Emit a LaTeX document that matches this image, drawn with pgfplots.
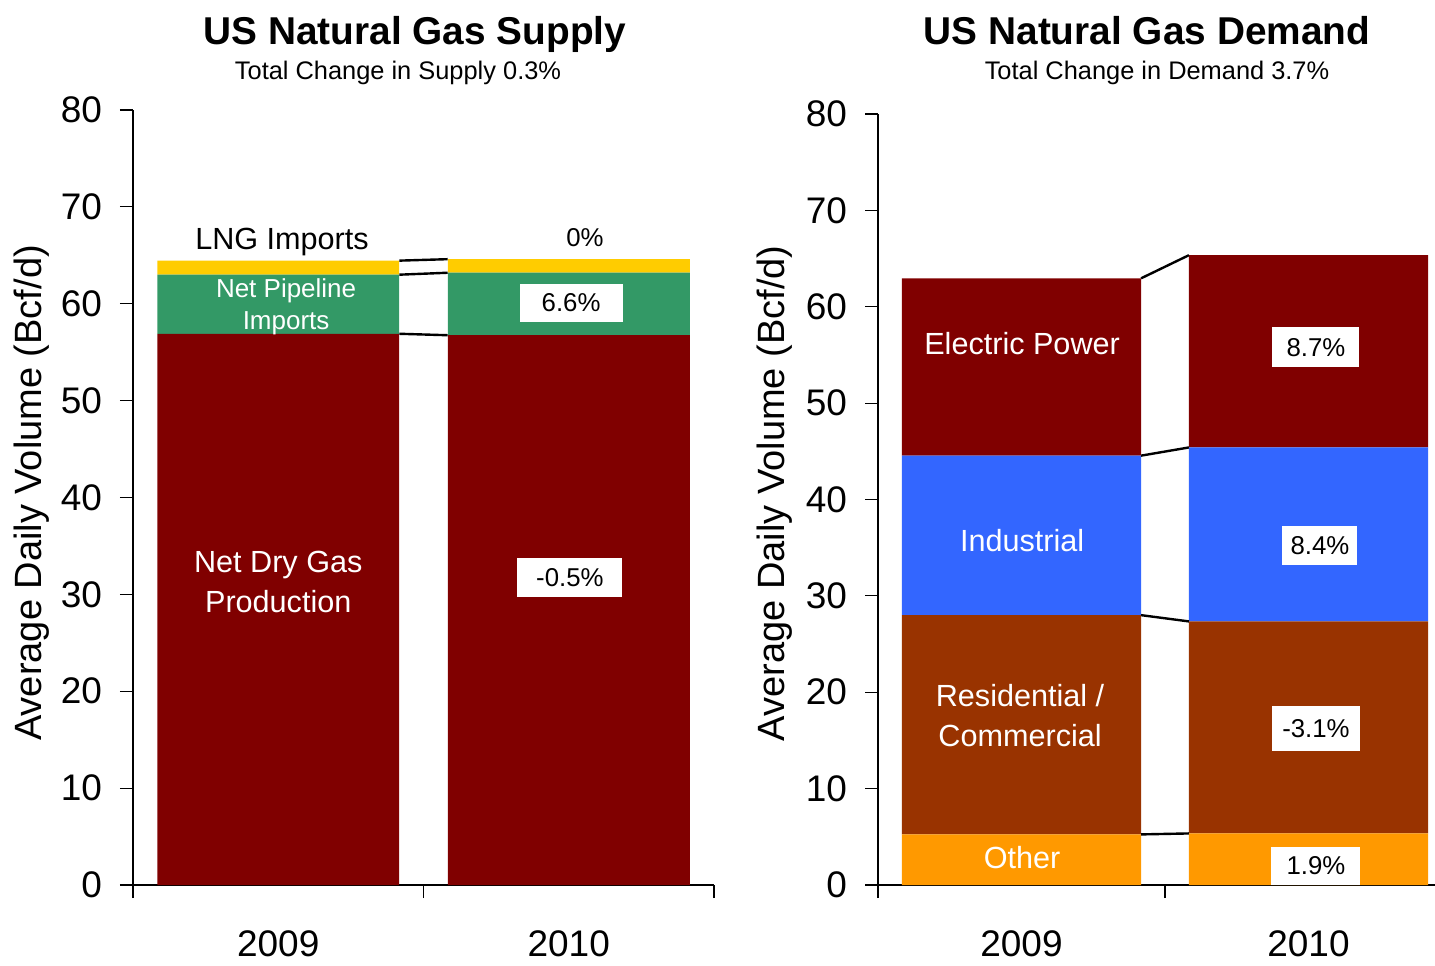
\documentclass[border=0pt]{standalone}
\usepackage{fontspec}
\setmainfont{Liberation Sans}
\usepackage{pgfplots}
\pgfplotsset{compat=1.18}
\definecolor{dred}{HTML}{800000}
\definecolor{pgreen}{HTML}{339966}
\definecolor{lyellow}{HTML}{FFCC00}
\definecolor{iblue}{HTML}{3366FF}
\definecolor{rbrown}{HTML}{993300}
\definecolor{oorange}{HTML}{FF9900}
\newcommand{\tl}{\fontsize{18.5}{20}\selectfont}
\newcommand{\wl}{\fontsize{15.3}{20}\selectfont}
\newcommand{\pl}{\fontsize{12.9}{15}\selectfont}
\begin{document}
\begin{tikzpicture}
\useasboundingbox (0,0) rectangle (717.5pt,482.5pt);
\pgfplotsset{
  base/.style={
    scale only axis, anchor=south west,
    xmin=-0.5, ymin=0, ymax=80,
  },
  main/.style={
    base,
    axis x line*=bottom, axis y line*=left,
    axis line style={black, line width=0.6pt},
    ybar stacked, bar width=0.833,
    ytick={0,10,...,80},
    tick align=outside, major tick length=6.5pt,
    tick style={black, line width=0.6pt},
    /pgf/number format/assume math mode=true,
    tick label style={font=\tl},
    yticklabel style={xshift=-5.5pt},
    extra x ticks={0,1}, extra x tick labels={2009,2010},
    extra x tick style={major tick length=0pt, xticklabel style={yshift=-19.5pt}},
    xticklabels={},
    every axis y label/.style={rotate=90, anchor=center, font=\fontsize{19}{20}\selectfont},
  },
  over/.style={base, hide axis},
}
% ---------------- Supply ----------------
\begin{axis}[main, at={(66.5pt,40pt)}, width=290.5pt, height=387.5pt,
  xmax=1.5, xtick={-0.5,0.5,1.5},
  ylabel={Average Daily Volume (Bcf/d)},
  ylabel style={at={(axis description cs:-0.174,0.506)}}]
\addplot[fill=dred, draw=none] coordinates {(0,56.9) (1,56.75)};
\addplot[fill=pgreen, draw=none] coordinates {(0,6.1) (1,6.45)};
\addplot[fill=lyellow, draw=none] coordinates {(0,1.45) (1,1.4)};
\end{axis}
\begin{axis}[over, at={(66.5pt,40pt)}, width=290.5pt, height=387.5pt, xmax=1.5]
\addplot[black, line width=1.2pt] coordinates {(0.4167,56.9) (0.5833,56.75)};
\addplot[black, line width=1.2pt] coordinates {(0.4167,63.0) (0.5833,63.2)};
\addplot[black, line width=1.2pt] coordinates {(0.4167,64.45) (0.5833,64.6)};
\node[font=\wl] at (axis cs:0.013,66.4) {LNG Imports};
\node[font=\fontsize{13}{16}\selectfont, text=white, align=center] at (axis cs:0.027,59.7) {Net Pipeline\\Imports};
\node[font=\wl, text=white, align=center] at (axis cs:0,31.3) {Net Dry Gas\\Production};
\node[font=\pl] at (axis cs:1.056,66.8) {0\%};
\node[font=\pl, fill=white, minimum width=51.5pt, minimum height=19pt, inner sep=0pt] at (axis cs:1.008,60.1) {6.6\%};
\node[font=\pl, fill=white, minimum width=52.5pt, minimum height=19.5pt, inner sep=0pt] at (axis cs:1.004,31.7) {-0.5\%};
\end{axis}
% ---------------- Demand ----------------
\begin{axis}[main, at={(439pt,40pt)}, width=278.5pt, height=385.5pt,
  xmax=1.4408, xtick={-0.5,0.5},
  ylabel={Average Daily Volume (Bcf/d)},
  ylabel style={at={(axis description cs:-0.185,0.508)}}]
\addplot[fill=oorange, draw=none] coordinates {(0,5.25) (1,5.35)};
\addplot[fill=rbrown, draw=none] coordinates {(0,22.75) (1,22.0)};
\addplot[fill=iblue, draw=none] coordinates {(0,16.55) (1,18.05)};
\addplot[fill=dred, draw=none] coordinates {(0,18.4) (1,19.95)};
\end{axis}
\begin{axis}[over, at={(439pt,40pt)}, width=278.5pt, height=385.5pt, xmax=1.4408]
\addplot[black, line width=1.2pt] coordinates {(0.4167,5.25) (0.5833,5.35)};
\addplot[black, line width=1.2pt] coordinates {(0.4167,28.0) (0.5833,27.35)};
\addplot[black, line width=1.2pt] coordinates {(0.4167,44.55) (0.5833,45.4)};
\addplot[black, line width=1.2pt] coordinates {(0.4167,62.95) (0.5833,65.35)};
\node[font=\wl, text=white] at (axis cs:0.002,56.2) {Electric Power};
\node[font=\wl, text=white] at (axis cs:0.002,35.7) {Industrial};
\node[font=\wl, text=white, align=center] at (axis cs:-0.005,17.6) {Residential /\\Commercial};
\node[font=\wl, text=white] at (axis cs:0.002,2.85) {Other};
\node[font=\pl, fill=white, minimum width=43.5pt, minimum height=20pt, inner sep=0pt] at (axis cs:1.026,55.8) {8.7\%};
\node[font=\pl, fill=white, minimum width=37.5pt, minimum height=19.5pt, inner sep=0pt] at (axis cs:1.04,35.2) {8.4\%};
\node[font=\pl, fill=white, minimum width=44pt, minimum height=22.5pt, inner sep=0pt] at (axis cs:1.026,16.2) {-3.1\%};
\node[font=\pl, fill=white, minimum width=44.5pt, minimum height=19pt, inner sep=0pt] at (axis cs:1.026,2.0) {1.9\%};
\end{axis}
% ---------------- Titles ----------------
\node[font=\fontsize{19.4}{22}\selectfont\bfseries, anchor=base] at (207.5pt,460pt) {US Natural Gas Supply};
\node[font=\fontsize{12.7}{15}\selectfont, anchor=base] at (199pt,442.5pt) {Total Change in Supply 0.3\%};
\node[font=\fontsize{19.4}{22}\selectfont\bfseries, anchor=base] at (573.5pt,460pt) {US Natural Gas Demand};
\node[font=\fontsize{12.7}{15}\selectfont, anchor=base] at (578.5pt,442.5pt) {Total Change in Demand 3.7\%};
\end{tikzpicture}
\end{document}
